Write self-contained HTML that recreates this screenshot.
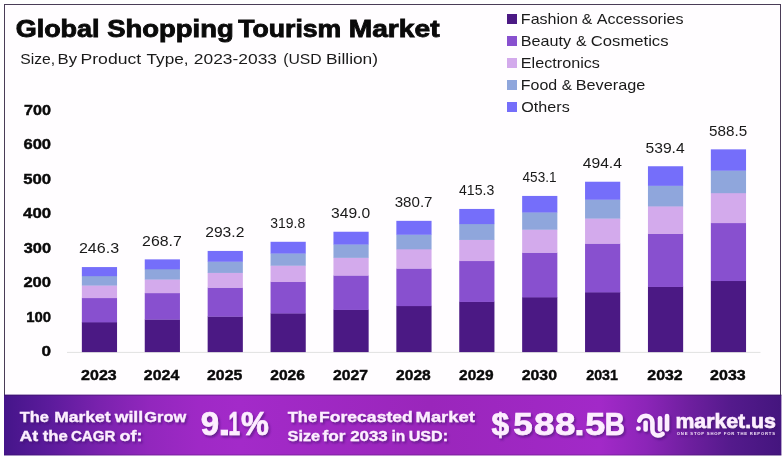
<!DOCTYPE html>
<html lang="en"><head><meta charset="utf-8"><title>Global Shopping Tourism Market</title>
<style>
html,body{margin:0;padding:0;background:#fff;}
body{width:784px;height:462px;overflow:hidden;font-family:"Liberation Sans",Arial,sans-serif;}
svg{display:block;}
text{font-family:"Liberation Sans",Arial,sans-serif;}
.k{fill:#0a0a0a;stroke:#0a0a0a;stroke-width:0.4px;}
.kt{fill:#0a0a0a;stroke:#0a0a0a;stroke-width:0.85px;}
.r{fill:#1a1a1a;}
.f{fill:#fdeeff;stroke:#fdeeff;stroke-width:0.3px;}
.f2{fill:#fdeeff;stroke:#fdeeff;stroke-width:0.6px;}
.f3{fill:#fdeeff;stroke:#fdeeff;stroke-width:0.7px;}
.tag{fill:#fdeeff;opacity:0.92;}
</style></head><body>
<svg width="784" height="462" viewBox="0 0 784 462">
<defs>
<linearGradient id="band" gradientUnits="userSpaceOnUse" x1="4" y1="0" x2="781" y2="0">
<stop offset="0" stop-color="#45158a"/>
<stop offset="0.059" stop-color="#5c1b9c"/>
<stop offset="0.124" stop-color="#7a22ae"/>
<stop offset="0.188" stop-color="#9227bd"/>
<stop offset="0.252" stop-color="#9f29c6"/>
<stop offset="0.304" stop-color="#a32ac9"/>
<stop offset="0.548" stop-color="#9a26bb"/>
<stop offset="0.767" stop-color="#a229c8"/>
<stop offset="0.826" stop-color="#8c25b8"/>
<stop offset="0.882" stop-color="#6e1f9f"/>
<stop offset="0.936" stop-color="#541a8c"/>
<stop offset="1" stop-color="#44157e"/>
</linearGradient>
<filter id="ts" x="-10%" y="-20%" width="120%" height="150%">
<feDropShadow dx="1.5" dy="1.9" stdDeviation="1.3" flood-color="#3a0a6a" flood-opacity="0.6"/>
</filter>
</defs>
<rect x="0" y="0" width="784" height="462" fill="#ffffff"/>
<rect x="4.5" y="4.5" width="776" height="420" fill="#fffdff" stroke="#4a3d57" stroke-width="1"/>
<rect x="507" y="14" width="10" height="10" fill="#4b1984"/>
<rect x="507" y="36" width="10" height="10" fill="#8850cf"/>
<rect x="507" y="58" width="10" height="10" fill="#d3aaec"/>
<rect x="507" y="80" width="10" height="10" fill="#8fa6dc"/>
<rect x="507" y="102" width="10" height="10" fill="#756efa"/>
<rect x="67" y="351.9" width="693.5" height="0.9" fill="#dedede"/>
<rect x="81.85" y="322.06" width="35.2" height="30.04" fill="#4b1984"/>
<rect x="81.85" y="297.83" width="35.2" height="24.53" fill="#8850cf"/>
<rect x="81.85" y="285.29" width="35.2" height="12.84" fill="#d3aaec"/>
<rect x="81.85" y="275.88" width="35.2" height="9.70" fill="#8fa6dc"/>
<rect x="81.85" y="267.07" width="35.2" height="9.11" fill="#756efa"/>
<rect x="144.75" y="319.36" width="35.2" height="32.74" fill="#4b1984"/>
<rect x="144.75" y="292.92" width="35.2" height="26.74" fill="#8850cf"/>
<rect x="144.75" y="279.24" width="35.2" height="13.98" fill="#d3aaec"/>
<rect x="144.75" y="268.98" width="35.2" height="10.56" fill="#8fa6dc"/>
<rect x="144.75" y="259.37" width="35.2" height="9.91" fill="#756efa"/>
<rect x="207.65" y="316.40" width="35.2" height="35.70" fill="#4b1984"/>
<rect x="207.65" y="287.55" width="35.2" height="29.15" fill="#8850cf"/>
<rect x="207.65" y="272.62" width="35.2" height="15.23" fill="#d3aaec"/>
<rect x="207.65" y="261.43" width="35.2" height="11.50" fill="#8fa6dc"/>
<rect x="207.65" y="250.94" width="35.2" height="10.79" fill="#756efa"/>
<rect x="270.55" y="313.19" width="35.2" height="38.91" fill="#4b1984"/>
<rect x="270.55" y="281.72" width="35.2" height="31.76" fill="#8850cf"/>
<rect x="270.55" y="265.44" width="35.2" height="16.58" fill="#d3aaec"/>
<rect x="270.55" y="253.23" width="35.2" height="12.51" fill="#8fa6dc"/>
<rect x="270.55" y="241.79" width="35.2" height="11.74" fill="#756efa"/>
<rect x="333.45" y="309.66" width="35.2" height="42.44" fill="#4b1984"/>
<rect x="333.45" y="275.32" width="35.2" height="34.64" fill="#8850cf"/>
<rect x="333.45" y="257.56" width="35.2" height="18.07" fill="#d3aaec"/>
<rect x="333.45" y="244.23" width="35.2" height="13.63" fill="#8fa6dc"/>
<rect x="333.45" y="231.74" width="35.2" height="12.79" fill="#756efa"/>
<rect x="396.35" y="305.83" width="35.2" height="46.27" fill="#4b1984"/>
<rect x="396.35" y="268.38" width="35.2" height="37.75" fill="#8850cf"/>
<rect x="396.35" y="249.00" width="35.2" height="19.68" fill="#d3aaec"/>
<rect x="396.35" y="234.46" width="35.2" height="14.84" fill="#8fa6dc"/>
<rect x="396.35" y="220.84" width="35.2" height="13.92" fill="#756efa"/>
<rect x="459.25" y="301.66" width="35.2" height="50.44" fill="#4b1984"/>
<rect x="459.25" y="260.80" width="35.2" height="41.16" fill="#8850cf"/>
<rect x="459.25" y="239.65" width="35.2" height="21.44" fill="#d3aaec"/>
<rect x="459.25" y="223.79" width="35.2" height="16.16" fill="#8fa6dc"/>
<rect x="459.25" y="208.94" width="35.2" height="15.16" fill="#756efa"/>
<rect x="522.15" y="297.09" width="35.2" height="55.01" fill="#4b1984"/>
<rect x="522.15" y="252.51" width="35.2" height="44.88" fill="#8850cf"/>
<rect x="522.15" y="229.44" width="35.2" height="23.37" fill="#d3aaec"/>
<rect x="522.15" y="212.14" width="35.2" height="17.60" fill="#8fa6dc"/>
<rect x="522.15" y="195.93" width="35.2" height="16.51" fill="#756efa"/>
<rect x="585.05" y="292.10" width="35.2" height="60.00" fill="#4b1984"/>
<rect x="585.05" y="243.46" width="35.2" height="48.94" fill="#8850cf"/>
<rect x="585.05" y="218.29" width="35.2" height="25.47" fill="#d3aaec"/>
<rect x="585.05" y="199.41" width="35.2" height="19.18" fill="#8fa6dc"/>
<rect x="585.05" y="181.73" width="35.2" height="17.99" fill="#756efa"/>
<rect x="647.95" y="286.67" width="35.2" height="65.43" fill="#4b1984"/>
<rect x="647.95" y="233.60" width="35.2" height="53.37" fill="#8850cf"/>
<rect x="647.95" y="206.14" width="35.2" height="27.76" fill="#d3aaec"/>
<rect x="647.95" y="185.54" width="35.2" height="20.90" fill="#8fa6dc"/>
<rect x="647.95" y="166.25" width="35.2" height="19.60" fill="#756efa"/>
<rect x="710.85" y="280.74" width="35.2" height="71.36" fill="#4b1984"/>
<rect x="710.85" y="222.84" width="35.2" height="58.20" fill="#8850cf"/>
<rect x="710.85" y="192.88" width="35.2" height="30.26" fill="#d3aaec"/>
<rect x="710.85" y="170.41" width="35.2" height="22.77" fill="#8fa6dc"/>
<rect x="710.85" y="149.36" width="35.2" height="21.35" fill="#756efa"/>
<text class="kt" y="36.50" font-size="23.6" font-weight="700"><tspan x="15.66" textLength="83.94" lengthAdjust="spacingAndGlyphs">Global</tspan> <tspan x="107.27" textLength="126.48" lengthAdjust="spacingAndGlyphs">Shopping</tspan> <tspan x="238.20" textLength="103.13" lengthAdjust="spacingAndGlyphs">Tourism</tspan> <tspan x="348.74" textLength="90.80" lengthAdjust="spacingAndGlyphs">Market</tspan></text>
<text class="r" y="64.35" font-size="15.5"><tspan x="20.31" textLength="34.86" lengthAdjust="spacingAndGlyphs">Size,</tspan> <tspan x="57.49" textLength="19.51" lengthAdjust="spacingAndGlyphs">By</tspan> <tspan x="80.53" textLength="60.61" lengthAdjust="spacingAndGlyphs">Product</tspan> <tspan x="146.53" textLength="42.05" lengthAdjust="spacingAndGlyphs">Type,</tspan> <tspan x="193.89" textLength="83.12" lengthAdjust="spacingAndGlyphs">2023-2033</tspan> <tspan x="283.26" textLength="38.48" lengthAdjust="spacingAndGlyphs">(USD</tspan> <tspan x="326.05" textLength="51.95" lengthAdjust="spacingAndGlyphs">Billion)</tspan></text>
<text class="r" y="23.70" font-size="14.2"><tspan x="520.85" textLength="57.05" lengthAdjust="spacingAndGlyphs">Fashion</tspan> <tspan x="581.71" textLength="10.57" lengthAdjust="spacingAndGlyphs">&amp;</tspan> <tspan x="596.80" textLength="86.70" lengthAdjust="spacingAndGlyphs">Accessories</tspan></text>
<text class="r" y="45.70" font-size="14.2"><tspan x="520.84" textLength="50.36" lengthAdjust="spacingAndGlyphs">Beauty</tspan> <tspan x="576.00" textLength="10.57" lengthAdjust="spacingAndGlyphs">&amp;</tspan> <tspan x="590.82" textLength="77.70" lengthAdjust="spacingAndGlyphs">Cosmetics</tspan></text>
<text class="r" y="67.70" font-size="14.2"><tspan x="520.84" textLength="79.07" lengthAdjust="spacingAndGlyphs">Electronics</tspan></text>
<text class="r" y="89.70" font-size="14.2"><tspan x="520.85" textLength="36.34" lengthAdjust="spacingAndGlyphs">Food</tspan> <tspan x="561.72" textLength="10.24" lengthAdjust="spacingAndGlyphs">&amp;</tspan> <tspan x="575.73" textLength="69.53" lengthAdjust="spacingAndGlyphs">Beverage</tspan></text>
<text class="r" y="111.70" font-size="14.2"><tspan x="521.34" textLength="48.36" lengthAdjust="spacingAndGlyphs">Others</tspan></text>
<text class="k" transform="translate(0 356.00) scale(1 1.0159)" y="0" font-size="14" font-weight="700"><tspan x="41.56" textLength="9.53" lengthAdjust="spacingAndGlyphs">0</tspan></text>
<text class="k" transform="translate(0 321.53) scale(1 1.0159)" y="0" font-size="14" font-weight="700"><tspan x="26.17" textLength="24.83" lengthAdjust="spacingAndGlyphs">100</tspan></text>
<text class="k" transform="translate(0 287.06) scale(1 1.0159)" y="0" font-size="14" font-weight="700"><tspan x="23.38" textLength="27.69" lengthAdjust="spacingAndGlyphs">200</tspan></text>
<text class="k" transform="translate(0 252.59) scale(1 1.0159)" y="0" font-size="14" font-weight="700"><tspan x="23.64" textLength="27.42" lengthAdjust="spacingAndGlyphs">300</tspan></text>
<text class="k" transform="translate(0 218.12) scale(1 1.0159)" y="0" font-size="14" font-weight="700"><tspan x="23.10" textLength="27.98" lengthAdjust="spacingAndGlyphs">400</tspan></text>
<text class="k" transform="translate(0 183.65) scale(1 1.0159)" y="0" font-size="14" font-weight="700"><tspan x="23.14" textLength="27.94" lengthAdjust="spacingAndGlyphs">500</tspan></text>
<text class="k" transform="translate(0 149.18) scale(1 1.0159)" y="0" font-size="14" font-weight="700"><tspan x="23.48" textLength="27.59" lengthAdjust="spacingAndGlyphs">600</tspan></text>
<text class="k" transform="translate(0 114.71) scale(1 1.0159)" y="0" font-size="14" font-weight="700"><tspan x="24.10" textLength="26.96" lengthAdjust="spacingAndGlyphs">700</tspan></text>
<text class="r" transform="translate(0 253.47) scale(1 1.0326)" y="0" font-size="14.6"><tspan x="78.90" textLength="40.20" lengthAdjust="spacingAndGlyphs">246.3</tspan></text>
<text class="r" transform="translate(0 245.77) scale(1 1.0326)" y="0" font-size="14.6"><tspan x="142.06" textLength="39.69" lengthAdjust="spacingAndGlyphs">268.7</tspan></text>
<text class="r" transform="translate(0 237.34) scale(1 1.0326)" y="0" font-size="14.6"><tspan x="205.22" textLength="39.17" lengthAdjust="spacingAndGlyphs">293.2</tspan></text>
<text class="r" transform="translate(0 228.19) scale(1 1.0326)" y="0" font-size="14.6"><tspan x="270.36" textLength="34.90" lengthAdjust="spacingAndGlyphs">319.8</tspan></text>
<text class="r" transform="translate(0 218.14) scale(1 1.0326)" y="0" font-size="14.6"><tspan x="331.01" textLength="39.18" lengthAdjust="spacingAndGlyphs">349.0</tspan></text>
<text class="r" transform="translate(0 207.24) scale(1 1.0326)" y="0" font-size="14.6"><tspan x="394.73" textLength="37.78" lengthAdjust="spacingAndGlyphs">380.7</tspan></text>
<text class="r" transform="translate(0 195.34) scale(1 1.0326)" y="0" font-size="14.6"><tspan x="458.98" textLength="35.29" lengthAdjust="spacingAndGlyphs">415.3</tspan></text>
<text class="r" transform="translate(0 182.33) scale(1 1.0326)" y="0" font-size="14.6"><tspan x="522.54" textLength="33.96" lengthAdjust="spacingAndGlyphs">453.1</tspan></text>
<text class="r" transform="translate(0 168.13) scale(1 1.0326)" y="0" font-size="14.6"><tspan x="582.71" textLength="39.24" lengthAdjust="spacingAndGlyphs">494.4</tspan></text>
<text class="r" transform="translate(0 152.65) scale(1 1.0326)" y="0" font-size="14.6"><tspan x="645.51" textLength="39.18" lengthAdjust="spacingAndGlyphs">539.4</tspan></text>
<text class="r" transform="translate(0 135.76) scale(1 1.0326)" y="0" font-size="14.6"><tspan x="709.07" textLength="38.09" lengthAdjust="spacingAndGlyphs">588.5</tspan></text>
<text class="k" transform="translate(0 379.80) scale(1 1.0326)" y="0" font-size="14.6" font-weight="700"><tspan x="81.10" textLength="35.60" lengthAdjust="spacingAndGlyphs">2023</tspan></text>
<text class="k" transform="translate(0 379.80) scale(1 1.0326)" y="0" font-size="14.6" font-weight="700"><tspan x="143.85" textLength="35.40" lengthAdjust="spacingAndGlyphs">2024</tspan></text>
<text class="k" transform="translate(0 379.80) scale(1 1.0326)" y="0" font-size="14.6" font-weight="700"><tspan x="207.05" textLength="35.29" lengthAdjust="spacingAndGlyphs">2025</tspan></text>
<text class="k" transform="translate(0 379.80) scale(1 1.0326)" y="0" font-size="14.6" font-weight="700"><tspan x="270.21" textLength="34.78" lengthAdjust="spacingAndGlyphs">2026</tspan></text>
<text class="k" transform="translate(0 379.80) scale(1 1.0326)" y="0" font-size="14.6" font-weight="700"><tspan x="333.11" textLength="35.03" lengthAdjust="spacingAndGlyphs">2027</tspan></text>
<text class="k" transform="translate(0 379.80) scale(1 1.0326)" y="0" font-size="14.6" font-weight="700"><tspan x="396.06" textLength="34.68" lengthAdjust="spacingAndGlyphs">2028</tspan></text>
<text class="k" transform="translate(0 379.80) scale(1 1.0326)" y="0" font-size="14.6" font-weight="700"><tspan x="459.12" textLength="34.37" lengthAdjust="spacingAndGlyphs">2029</tspan></text>
<text class="k" transform="translate(0 379.80) scale(1 1.0326)" y="0" font-size="14.6" font-weight="700"><tspan x="521.65" textLength="35.34" lengthAdjust="spacingAndGlyphs">2030</tspan></text>
<text class="k" transform="translate(0 379.80) scale(1 1.0326)" y="0" font-size="14.6" font-weight="700"><tspan x="586.25" textLength="31.70" lengthAdjust="spacingAndGlyphs">2031</tspan></text>
<text class="k" transform="translate(0 379.80) scale(1 1.0326)" y="0" font-size="14.6" font-weight="700"><tspan x="647.30" textLength="35.39" lengthAdjust="spacingAndGlyphs">2032</tspan></text>
<text class="k" transform="translate(0 379.80) scale(1 1.0326)" y="0" font-size="14.6" font-weight="700"><tspan x="710.05" textLength="35.70" lengthAdjust="spacingAndGlyphs">2033</tspan></text>
<rect x="4" y="394.7" width="777.4" height="60.7" fill="url(#band)"/>
<rect x="4" y="394.7" width="777.4" height="0.9" fill="#2a0f4a" opacity="0.45"/>
<rect x="4" y="454.5" width="777.4" height="0.9" fill="#2a0f4a" opacity="0.3"/>
<g filter="url(#ts)">
<text class="f" y="422.20" font-size="15.4" font-weight="700"><tspan x="19.70" textLength="29.11" lengthAdjust="spacingAndGlyphs">The</tspan> <tspan x="54.21" textLength="56.28" lengthAdjust="spacingAndGlyphs">Market</tspan> <tspan x="114.87" textLength="28.26" lengthAdjust="spacingAndGlyphs">will</tspan> <tspan x="144.39" textLength="41.75" lengthAdjust="spacingAndGlyphs">Grow</tspan></text>
<text class="f" y="440.70" font-size="15.4" font-weight="700"><tspan x="19.42" textLength="18.76" lengthAdjust="spacingAndGlyphs">At</tspan> <tspan x="42.70" textLength="25.02" lengthAdjust="spacingAndGlyphs">the</tspan> <tspan x="70.93" textLength="44.36" lengthAdjust="spacingAndGlyphs">CAGR</tspan> <tspan x="119.44" textLength="23.06" lengthAdjust="spacingAndGlyphs">of:</tspan></text>
<text class="f3" transform="translate(0 435.00) scale(1 1.0460)" y="0" font-size="31" font-weight="700"><tspan x="200.88" textLength="18.24" lengthAdjust="spacingAndGlyphs">9</tspan><tspan x="218.24" textLength="12.27" lengthAdjust="spacingAndGlyphs">.</tspan><tspan x="228.41" textLength="11.51" lengthAdjust="spacingAndGlyphs">1</tspan><tspan x="240.91" textLength="27.83" lengthAdjust="spacingAndGlyphs">%</tspan></text>
<text class="f" y="422.20" font-size="15.4" font-weight="700"><tspan x="287.80" textLength="29.31" lengthAdjust="spacingAndGlyphs">The</tspan> <tspan x="319.10" textLength="93.62" lengthAdjust="spacingAndGlyphs">Forecasted</tspan> <tspan x="415.55" textLength="59.34" lengthAdjust="spacingAndGlyphs">Market</tspan></text>
<text class="f" y="440.70" font-size="15.4" font-weight="700"><tspan x="287.55" textLength="32.56" lengthAdjust="spacingAndGlyphs">Size</tspan> <tspan x="322.53" textLength="22.91" lengthAdjust="spacingAndGlyphs">for</tspan> <tspan x="350.27" textLength="37.45" lengthAdjust="spacingAndGlyphs">2033</tspan> <tspan x="391.44" textLength="13.71" lengthAdjust="spacingAndGlyphs">in</tspan> <tspan x="408.74" textLength="39.39" lengthAdjust="spacingAndGlyphs">USD:</tspan></text>
<text class="f3" transform="translate(0 435.20) scale(1 1.0368)" y="0" font-size="31" font-weight="700"><tspan x="491.50" textLength="17.59" lengthAdjust="spacingAndGlyphs">$</tspan><tspan x="513.15" textLength="19.41" lengthAdjust="spacingAndGlyphs">5</tspan><tspan x="534.05" textLength="20.47" lengthAdjust="spacingAndGlyphs">8</tspan><tspan x="555.05" textLength="20.47" lengthAdjust="spacingAndGlyphs">8</tspan><tspan x="574.56" textLength="9.96" lengthAdjust="spacingAndGlyphs">.</tspan><tspan x="585.34" textLength="19.95" lengthAdjust="spacingAndGlyphs">5</tspan><tspan x="604.66" textLength="20.11" lengthAdjust="spacingAndGlyphs">B</tspan></text>
<text class="f2" y="427.90" font-size="19.4" font-weight="700"><tspan x="675.47" textLength="100.39" lengthAdjust="spacingAndGlyphs">market.us</tspan></text>
<text class="tag" x="676.8" y="434.7" font-size="4.2" font-weight="700" textLength="98.2" lengthAdjust="spacing">ONE STOP SHOP FOR THE REPORTS</text>
<g fill="none" stroke="#fdeeff" stroke-width="4.5" stroke-linecap="round" stroke-linejoin="round">
<path d="M639.2 420.6 C640.5 417.5 643 415.8 646 415.8 C649.8 415.8 652.4 418.6 652.4 422.5 L652.4 429.5 C652.4 433 654.8 435.5 657.9 435.5 C659.9 435.5 661.4 434.9 662.6 433.8"/>
<path d="M645.6 422.8 L645.6 429.4"/>
<path d="M660 418.2 L660 429.6"/>
<path d="M667 416 L667 429.2"/>
</g>
<circle cx="638.4" cy="428.6" r="2.4" fill="#fdeeff"/>
</g>
</svg></body></html>
